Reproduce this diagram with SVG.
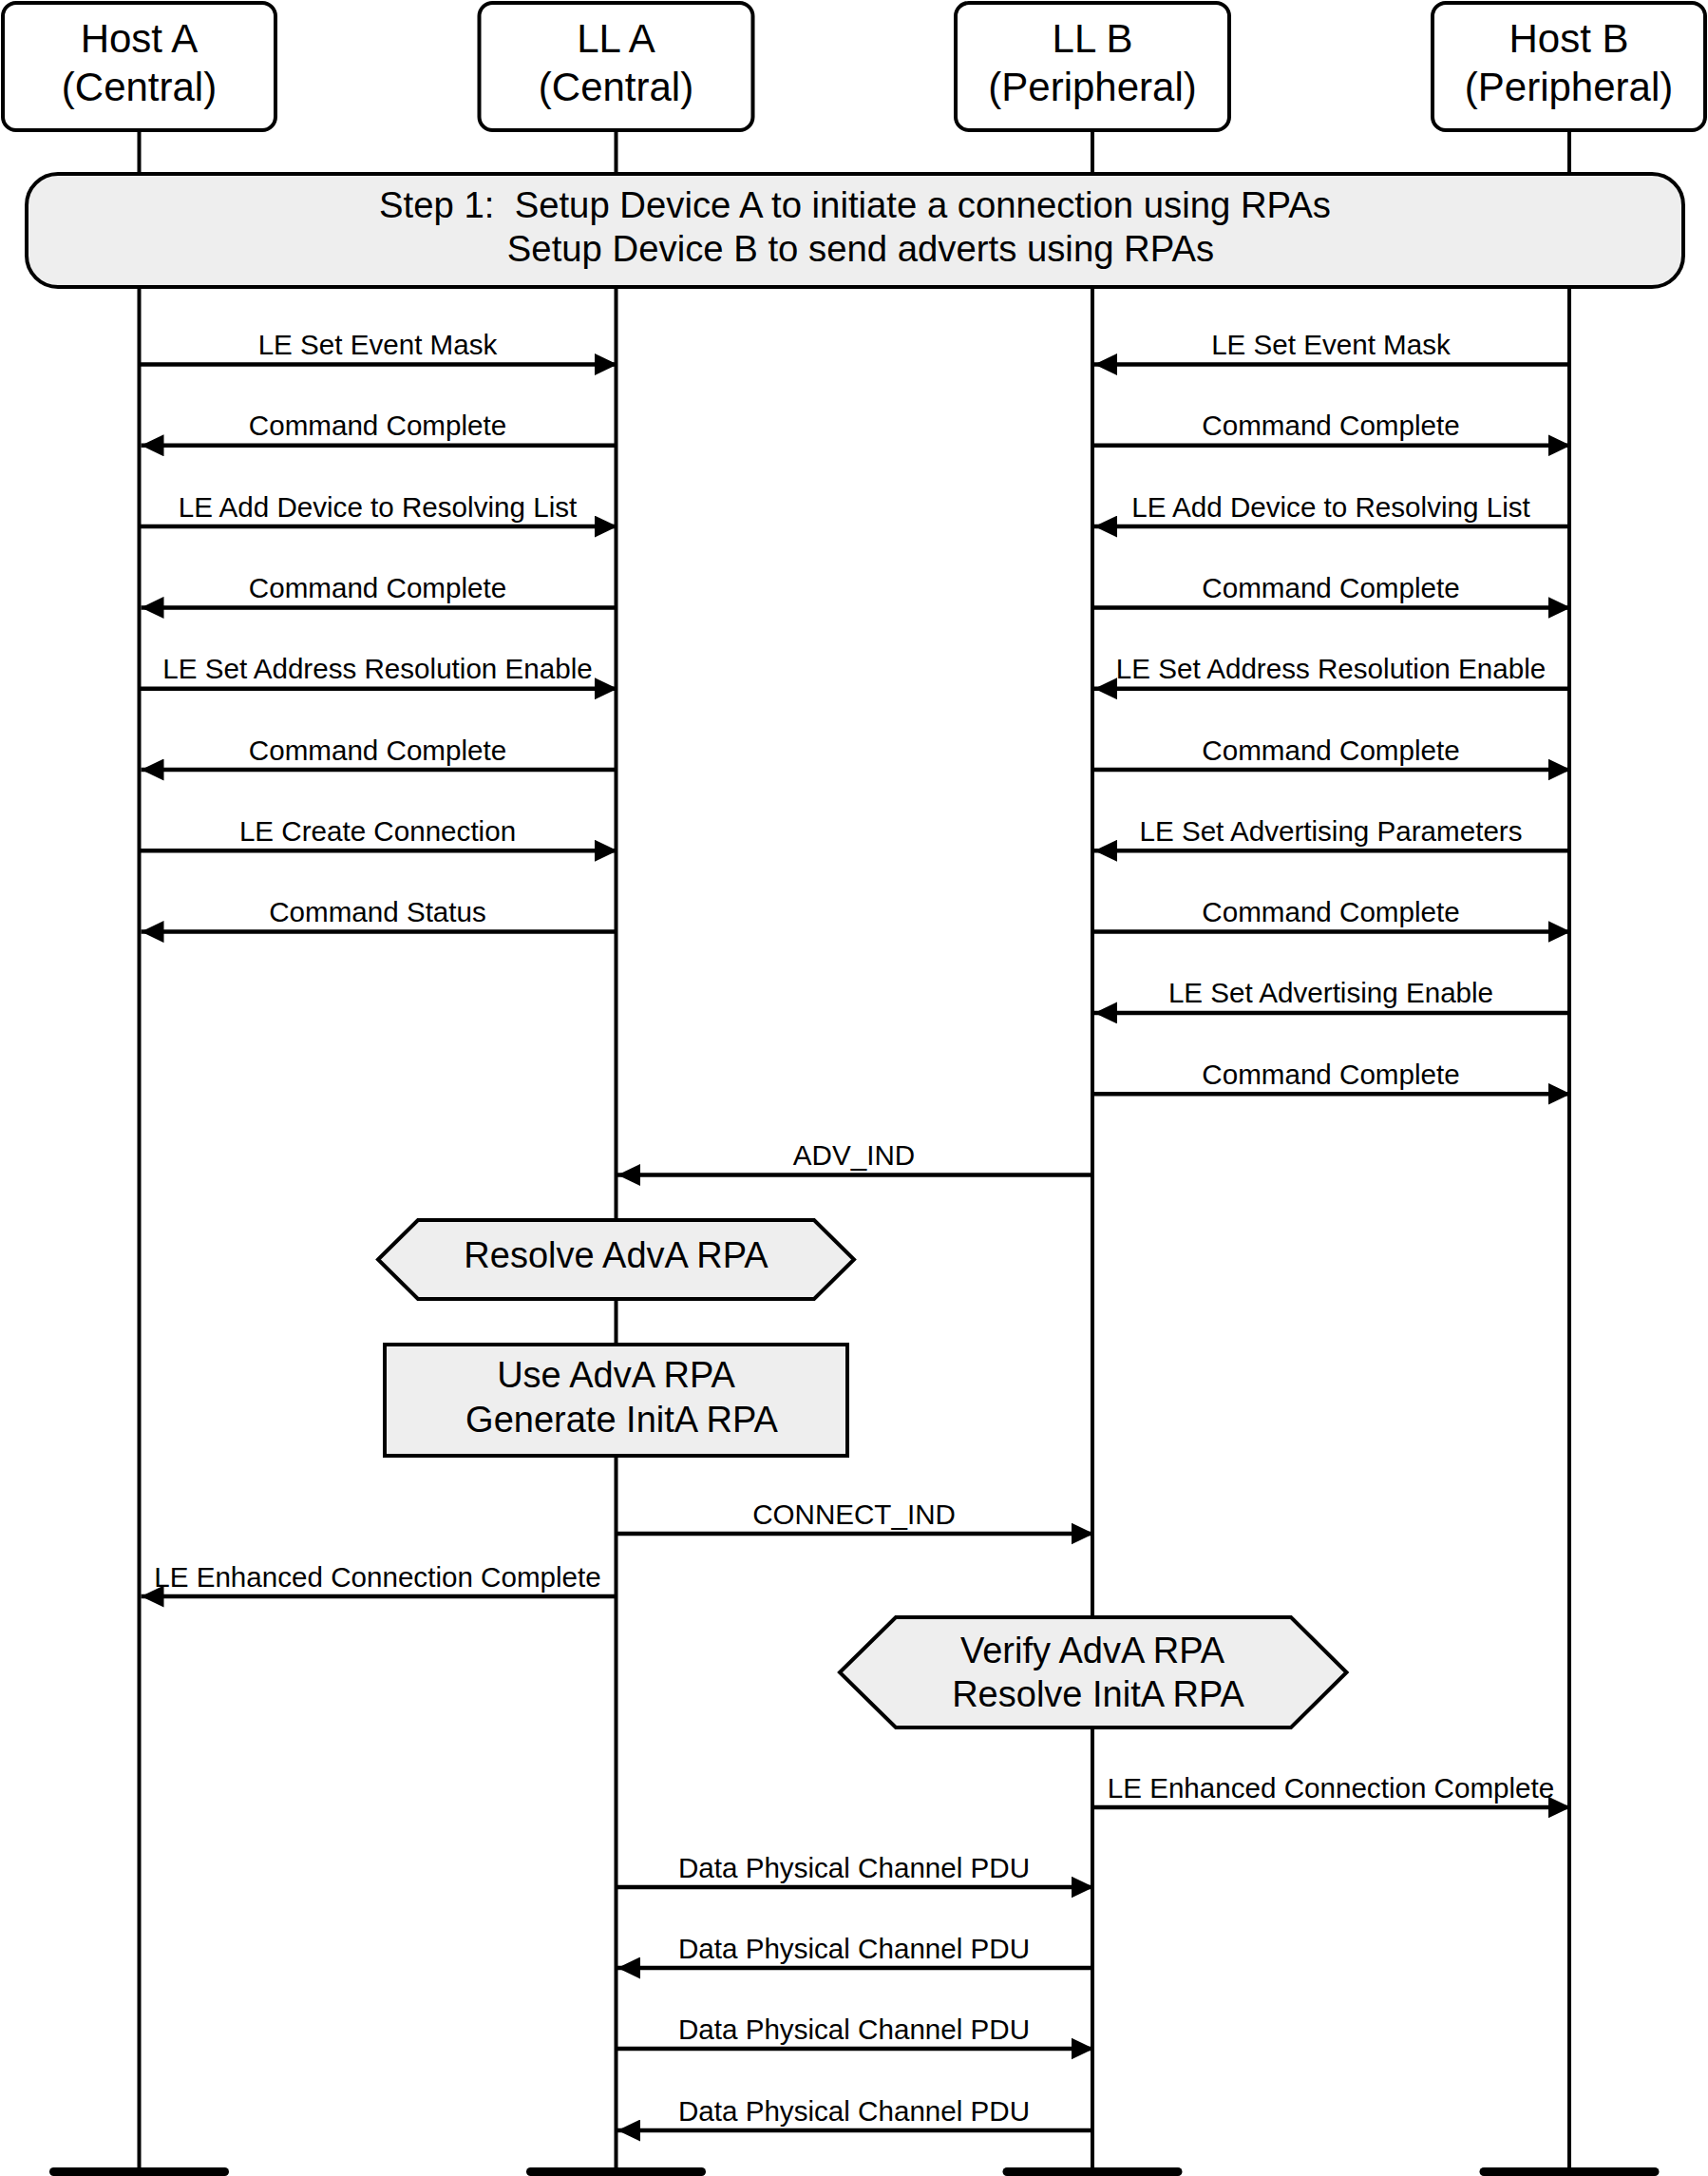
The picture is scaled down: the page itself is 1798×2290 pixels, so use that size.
<svg xmlns="http://www.w3.org/2000/svg" width="1798" height="2290" viewBox="0 0 1798 2290">
<style>
text{font-family:"Liberation Sans",Arial,sans-serif;fill:#000;text-anchor:middle}
.t{font-size:42px}
.s{font-size:38.3px}
.m{font-size:29.6px}
.p{font-size:38px}
.box{fill:#fff;stroke:#000;stroke-width:4}
.g{fill:#eeeeee;stroke:#000;stroke-width:4}
.life{stroke:#000;stroke-width:4;fill:none}
.msg{stroke:#000;stroke-width:4.5;fill:none;marker-end:url(#ah)}
.bar{fill:#000}
</style>
<defs>
<marker id="ah" viewBox="0 0 24 23" refX="24" refY="11.5" markerWidth="24" markerHeight="23" markerUnits="userSpaceOnUse" orient="auto">
<path d="M0,0 L24,11.5 L0,23 Z" fill="#000"/>
</marker>
</defs>
<g id="lifelines">
<line class="life" x1="146.5" y1="138" x2="146.5" y2="2281"/>
<line class="life" x1="648.5" y1="138" x2="648.5" y2="2281"/>
<line class="life" x1="1150" y1="138" x2="1150" y2="2281"/>
<line class="life" x1="1652" y1="138" x2="1652" y2="2281"/>
<rect class="bar" x="52" y="2281" width="189" height="9" rx="4.5"/>
<rect class="bar" x="554" y="2281" width="189" height="9" rx="4.5"/>
<rect class="bar" x="1055.5" y="2281" width="189" height="9" rx="4.5"/>
<rect class="bar" x="1557.5" y="2281" width="189" height="9" rx="4.5"/>
</g>
<g id="hostA">
<rect class="box" x="3" y="3" width="287" height="134" rx="14"/>
<text class="t" x="146.5" y="55">Host A</text>
<text class="t" x="146.5" y="106">(Central)</text>
</g>
<g id="llA">
<rect class="box" x="504.5" y="3" width="288" height="134" rx="14"/>
<text class="t" x="648.5" y="55">LL A</text>
<text class="t" x="648.5" y="106">(Central)</text>
</g>
<g id="llB">
<rect class="box" x="1006" y="3" width="288" height="134" rx="14"/>
<text class="t" x="1150" y="55">LL B</text>
<text class="t" x="1150" y="106">(Peripheral)</text>
</g>
<g id="hostB">
<rect class="box" x="1508" y="3" width="287" height="134" rx="14"/>
<text class="t" x="1651.5" y="55">Host B</text>
<text class="t" x="1651.5" y="106">(Peripheral)</text>
</g>
<g id="step1">
<rect class="g" x="28" y="183" width="1744" height="119" rx="33"/>
<text class="s" x="900" y="229" xml:space="preserve">Step 1:  Setup Device A to initiate a connection using RPAs</text>
<text class="s" x="906" y="275">Setup Device B to send adverts using RPAs</text>
</g>
<g id="resolveAdvA">
<polygon class="g" points="398,1325.5 440,1284 857,1284 899,1325.5 857,1367 440,1367"/>
<text class="p" x="648.5" y="1334">Resolve AdvA RPA</text>
</g>
<g id="useAdvA">
<rect class="g" x="405" y="1415" width="487" height="117"/>
<text class="p" x="648.5" y="1460">Use AdvA RPA</text>
<text class="p" x="654.5" y="1507">Generate InitA RPA</text>
</g>
<g id="verifyAdvA">
<polygon class="g" points="884,1760 943,1702 1359,1702 1417.5,1760 1359,1818 943,1818"/>
<text class="p" x="1150" y="1750">Verify AdvA RPA</text>
<text class="p" x="1156" y="1796">Resolve InitA RPA</text>
</g>
<g id="connectors">
<line class="msg" x1="146.5" y1="383.5" x2="650" y2="383.5"/>
<line class="msg" x1="648.5" y1="468.8" x2="148.5" y2="468.8"/>
<line class="msg" x1="146.5" y1="554.1" x2="650" y2="554.1"/>
<line class="msg" x1="648.5" y1="639.4" x2="148.5" y2="639.4"/>
<line class="msg" x1="146.5" y1="724.7" x2="650" y2="724.7"/>
<line class="msg" x1="648.5" y1="810" x2="148.5" y2="810"/>
<line class="msg" x1="146.5" y1="895.3" x2="650" y2="895.3"/>
<line class="msg" x1="648.5" y1="980.6" x2="148.5" y2="980.6"/>
<line class="msg" x1="1652" y1="383.5" x2="1152" y2="383.5"/>
<line class="msg" x1="1150" y1="468.8" x2="1653.5" y2="468.8"/>
<line class="msg" x1="1652" y1="554.1" x2="1152" y2="554.1"/>
<line class="msg" x1="1150" y1="639.4" x2="1653.5" y2="639.4"/>
<line class="msg" x1="1652" y1="724.7" x2="1152" y2="724.7"/>
<line class="msg" x1="1150" y1="810" x2="1653.5" y2="810"/>
<line class="msg" x1="1652" y1="895.3" x2="1152" y2="895.3"/>
<line class="msg" x1="1150" y1="980.6" x2="1653.5" y2="980.6"/>
<line class="msg" x1="1652" y1="1065.9" x2="1152" y2="1065.9"/>
<line class="msg" x1="1150" y1="1151.2" x2="1653.5" y2="1151.2"/>
<line class="msg" x1="1150" y1="1236.5" x2="650" y2="1236.5"/>
<line class="msg" x1="648.5" y1="1614" x2="1151.5" y2="1614"/>
<line class="msg" x1="648.5" y1="1680" x2="148.5" y2="1680"/>
<line class="msg" x1="1150" y1="1902" x2="1653.5" y2="1902"/>
<line class="msg" x1="648.5" y1="1986" x2="1151.5" y2="1986"/>
<line class="msg" x1="1150" y1="2071" x2="650" y2="2071"/>
<line class="msg" x1="648.5" y1="2156" x2="1151.5" y2="2156"/>
<line class="msg" x1="1150" y1="2242" x2="650" y2="2242"/>
<text class="m" x="397.5" y="373">LE Set Event Mask</text>
<text class="m" x="397.5" y="458.3">Command Complete</text>
<text class="m" x="397.5" y="543.6">LE Add Device to Resolving List</text>
<text class="m" x="397.5" y="628.9">Command Complete</text>
<text class="m" x="397.5" y="714.2">LE Set Address Resolution Enable</text>
<text class="m" x="397.5" y="799.5">Command Complete</text>
<text class="m" x="397.5" y="884.8">LE Create Connection</text>
<text class="m" x="397.5" y="970.1">Command Status</text>
<text class="m" x="1401" y="373">LE Set Event Mask</text>
<text class="m" x="1401" y="458.3">Command Complete</text>
<text class="m" x="1401" y="543.6">LE Add Device to Resolving List</text>
<text class="m" x="1401" y="628.9">Command Complete</text>
<text class="m" x="1401" y="714.2">LE Set Address Resolution Enable</text>
<text class="m" x="1401" y="799.5">Command Complete</text>
<text class="m" x="1401" y="884.8">LE Set Advertising Parameters</text>
<text class="m" x="1401" y="970.1">Command Complete</text>
<text class="m" x="1401" y="1055.4">LE Set Advertising Enable</text>
<text class="m" x="1401" y="1140.7">Command Complete</text>
<text class="m" x="899" y="1226">ADV_IND</text>
<text class="m" x="899" y="1603.5">CONNECT_IND</text>
<text class="m" x="397.5" y="1669.5">LE Enhanced Connection Complete</text>
<text class="m" x="1401" y="1891.5">LE Enhanced Connection Complete</text>
<text class="m" x="899" y="1975.5">Data Physical Channel PDU</text>
<text class="m" x="899" y="2060.5">Data Physical Channel PDU</text>
<text class="m" x="899" y="2145.5">Data Physical Channel PDU</text>
<text class="m" x="899" y="2231.5">Data Physical Channel PDU</text>
</g>
</svg>
